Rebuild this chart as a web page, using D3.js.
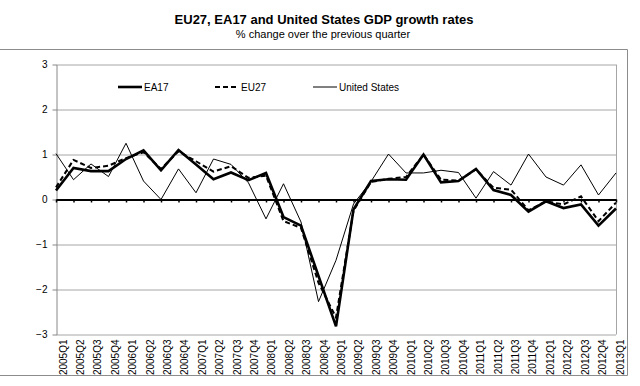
<!DOCTYPE html>
<html>
<head>
<meta charset="utf-8">
<script src="https://cdn.jsdelivr.net/npm/d3@7"></script>
<style>
  body { margin: 0; background: #fff; }
  text { font-family: "Liberation Sans", Arial, sans-serif; fill: #000; }
</style>
</head>
<body>
<svg id="chart" width="640" height="386"></svg>
<script>
const quarters = [
  '2005Q1', '2005Q2', '2005Q3', '2005Q4', '2006Q1', '2006Q2', '2006Q3', '2006Q4',
  '2007Q1', '2007Q2', '2007Q3', '2007Q4', '2008Q1', '2008Q2', '2008Q3', '2008Q4',
  '2009Q1', '2009Q2', '2009Q3', '2009Q4', '2010Q1', '2010Q2', '2010Q3', '2010Q4',
  '2011Q1', '2011Q2', '2011Q3', '2011Q4', '2012Q1', '2012Q2', '2012Q3', '2012Q4',
  '2013Q1',
];

const ea17 = [0.2, 0.7, 0.63, 0.63, 0.9, 1.09, 0.65, 1.1, 0.78, 0.45, 0.6, 0.43, 0.59, -0.39, -0.58, -1.7,
  -2.82, -0.22, 0.41, 0.45, 0.44, 1.0, 0.38, 0.41, 0.68, 0.21, 0.1, -0.27, -0.04, -0.19, -0.11, -0.58, -0.2];
const eu27 = [0.27, 0.88, 0.7, 0.75, 0.92, 1.05, 0.68, 1.07, 0.85, 0.62, 0.74, 0.48, 0.53, -0.48, -0.63, -1.85,
  -2.62, -0.25, 0.39, 0.46, 0.5, 1.0, 0.44, 0.42, 0.67, 0.26, 0.22, -0.24, -0.04, -0.11, 0.07, -0.48, -0.07];
const us = [1.02, 0.44, 0.79, 0.51, 1.25, 0.41, 0.0, 0.68, 0.15, 0.9, 0.78, 0.37, -0.43, 0.35, -0.5, -2.27,
  -1.35, -0.1, 0.4, 1.01, 0.59, 0.59, 0.65, 0.6, 0.03, 0.62, 0.32, 1.01, 0.5, 0.32, 0.77, 0.1, 0.59];

const yTicks = [-3, -2, -1, 0, 1, 2, 3];

const series = [
  { name: 'EA17', values: ea17, width: 2.6, dash: null },
  { name: 'EU27', values: eu27, width: 2, dash: '5,3' },
  { name: 'United States', values: us, width: 1, dash: null },
];

const svg = d3.select('#chart');

const plotLeft = 56;
const plotRight = 616;
const plotTop = 64.5;
const plotBottom = 334.5;

// Scales
const x = d3.scalePoint().domain(quarters).range([plotLeft, plotRight]);
const y = d3.scaleLinear().domain([-3, 3]).range([plotBottom, plotTop]);
// the category labels sit a little right of the points, as in the original
const xLabel = d3.scalePoint().domain(quarters).range([63, 620]);

// Outer frame of the chart area
svg.append('path')
  .attr('d', 'M0,49.5H627.5V375.5H0')
  .attr('fill', 'none')
  .attr('stroke', '#8c8c8c');

// Titles
svg.append('text')
  .attr('x', 324).attr('y', 24)
  .attr('text-anchor', 'middle')
  .style('font-size', '13px')
  .style('font-weight', 'bold')
  .text('EU27, EA17 and United States GDP growth rates');

svg.append('text')
  .attr('x', 323).attr('y', 38)
  .attr('text-anchor', 'middle')
  .style('font-size', '11px')
  .text('% change over the previous quarter');

// Gridlines
svg.append('g')
  .attr('transform', `translate(${plotLeft},0)`)
  .call(d3.axisLeft(y).tickValues(yTicks.filter(d => d !== 0)).tickSize(-(plotRight - plotLeft)).tickFormat(''))
  .call(g => g.select('.domain').remove())
  .call(g => g.selectAll('line').attr('stroke', '#a6a6a6'));

// Right border
svg.append('line')
  .attr('x1', plotRight + 0.5).attr('x2', plotRight + 0.5)
  .attr('y1', plotTop).attr('y2', plotBottom)
  .attr('stroke', '#a6a6a6');

// Y axis with labels
svg.append('g')
  .attr('transform', `translate(${plotLeft + 0.5},0)`)
  .call(d3.axisLeft(y).tickValues(yTicks).tickSize(4).tickSizeOuter(0).tickPadding(5).tickFormat(d3.format('d')))
  .call(g => g.select('.domain').attr('stroke', '#888'))
  .call(g => g.selectAll('line').attr('stroke', '#888'))
  .call(g => g.selectAll('text').style('font-size', '10px').style('font-family', '"Liberation Sans", Arial, sans-serif'));

// Zero line with category ticks
svg.append('g')
  .attr('transform', `translate(0,${y(0)})`)
  .call(d3.axisBottom(x).tickSize(3).tickSizeOuter(0).tickFormat(''))
  .call(g => g.select('.domain').attr('stroke', '#000').attr('stroke-width', 2))
  .call(g => g.selectAll('.tick line').attr('stroke', '#000').attr('stroke-width', 1.5));

// Category labels, rotated
svg.append('g')
  .selectAll('text')
  .data(quarters)
  .join('text')
  .attr('transform', d => `translate(${xLabel(d)},${plotBottom + 5}) rotate(-90)`)
  .attr('text-anchor', 'end')
  .attr('dy', '0.35em')
  .style('font-size', '10px')
  .text(d => d);

// Lines
const line = d3.line()
  .x((d, i) => x(quarters[i]))
  .y(d => y(d));

series.slice().reverse().forEach(s => {
  svg.append('path')
    .datum(s.values)
    .attr('fill', 'none')
    .attr('stroke', '#000')
    .attr('stroke-width', s.width)
    .attr('stroke-dasharray', s.dash)
    .attr('stroke-linejoin', 'miter')
    .attr('d', line);
});

// Legend
const legendX = [118, 215, 313];
const legend = svg.append('g')
  .selectAll('g')
  .data(series)
  .join('g')
  .attr('transform', (d, i) => `translate(${legendX[i]},87)`);

legend.append('line')
  .attr('x1', 0).attr('x2', 24)
  .attr('stroke', '#000')
  .attr('stroke-width', d => d.width)
  .attr('stroke-dasharray', d => d.dash);

legend.append('text')
  .attr('x', 26)
  .attr('dy', '0.35em')
  .style('font-size', '10px')
  .text(d => d.name);
</script>
</body>
</html>
